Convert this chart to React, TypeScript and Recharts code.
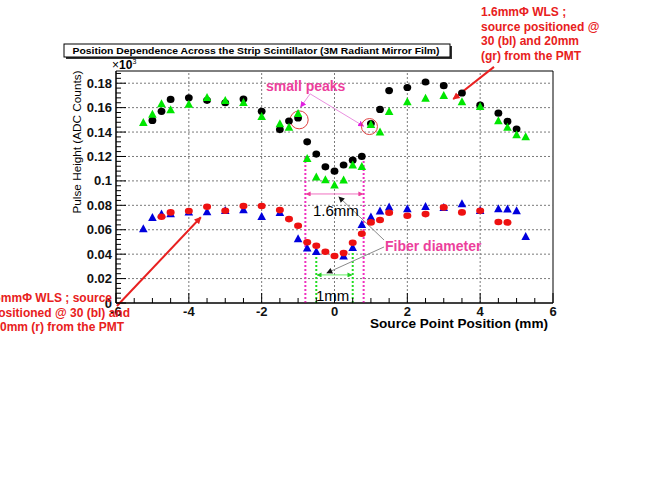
import React from 'react';
import { ScatterChart, Scatter, XAxis, YAxis, ReferenceLine, ReferenceArea, ReferenceDot } from 'recharts';

// ---- data ----
const blackX = [-5, -4.75, -4.5, -4, -3.5, -3, -2.5, -2, -1.5, -1.25, -1, -0.75, -0.5, -0.25, 0, 0.25, 0.5, 0.75, 1, 1.25, 1.5, 2, 2.5, 3, 3.5, 4, 4.5, 4.75, 5];
const blackY = [0.1495, 0.157, 0.1667, 0.168, 0.166, 0.164, 0.167, 0.157, 0.142, 0.149, 0.1515, 0.132, 0.122, 0.1115, 0.108, 0.113, 0.117, 0.12, 0.147, 0.1585, 0.174, 0.1765, 0.181, 0.178, 0.172, 0.162, 0.1555, 0.1487, 0.1425];

const greenX = [-5.25, -5, -4.75, -4.5, -4, -3.5, -3, -2.5, -2, -1.5, -1.25, -1, -0.75, -0.5, -0.25, 0, 0.25, 0.5, 0.75, 1, 1.25, 1.5, 2, 2.5, 3, 3.5, 4, 4.5, 4.75, 5, 5.25];
const greenY = [0.1475, 0.1544, 0.163, 0.158, 0.1626, 0.168, 0.1655, 0.164, 0.1525, 0.1465, 0.1437, 0.155, 0.118, 0.103, 0.1006, 0.0963, 0.1004, 0.1127, 0.1115, 0.146, 0.1397, 0.1566, 0.1645, 0.1675, 0.1697, 0.1645, 0.1607, 0.149, 0.1437, 0.1375, 0.136];

const blueX = [-5.25, -5, -4.75, -4.5, -4, -3.5, -3, -2.5, -2, -1.5, -1, -0.75, -0.5, 0.25, 0.5, 0.75, 1, 1.25, 1.5, 2, 2.5, 3, 3.5, 4, 4.5, 4.75, 5, 5.25];
const blueY = [0.0606, 0.0698, 0.0726, 0.0728, 0.0742, 0.0745, 0.0755, 0.0761, 0.0706, 0.0739, 0.0524, 0.0448, 0.042, 0.0382, 0.0453, 0.064, 0.0702, 0.075, 0.0783, 0.0769, 0.0788, 0.078, 0.081, 0.0755, 0.077, 0.0768, 0.0754, 0.0543];

const redX = [-4.75, -4.5, -4, -3.5, -3, -2.5, -2, -1.5, -1.25, -1, -0.75, -0.5, -0.25, 0, 0.25, 0.5, 0.75, 1, 1.25, 1.5, 2, 2.5, 3, 3.5, 4, 4.5, 4.75];
const redY = [0.0706, 0.0742, 0.0753, 0.0788, 0.0755, 0.0794, 0.0794, 0.0761, 0.0687, 0.0633, 0.0497, 0.0469, 0.042, 0.0385, 0.0409, 0.0494, 0.0567, 0.066, 0.068, 0.0739, 0.0714, 0.0728, 0.0783, 0.0742, 0.0755, 0.0663, 0.066];

const xMajorTicks = [-6, -4, -2, 0, 2, 4, 6];
const yMajorTicks = [0, 0.02, 0.04, 0.06, 0.08, 0.1, 0.12, 0.14, 0.16, 0.18];
const xGridTicks = [-4, -2, 0, 2, 4];
const yGridTicks = [0.02, 0.04, 0.06, 0.08, 0.1, 0.12, 0.14, 0.16, 0.18];

const title = 'Position Dependence Across the Strip Scintillator (3M Radiant Mirror Film)';
const xTitle = 'Source Point Position (mm)';
const yTitle = 'Pulse Height (ADC Counts)';
const noteRight = ['1.6mm\u03A6 WLS ;', 'source positioned @', '30 (bl) and 20mm', '(gr) from the PMT'];
const noteLeft = ['1.6mm\u03A6 WLS ;  source', 'positioned @ 30 (bl) and', '20mm (r) from the PMT'];

const X_DOMAIN: [number, number] = [-6, 6];
const Y_DOMAIN: [number, number] = [0, 0.19];

const xMinorTicks = Array.from({ length: 25 }, (_, i) => -6 + i * 0.5);
const yMinorTicks = Array.from({ length: 48 }, (_, i) => +(i * 0.004).toFixed(3));

const pts = (xs: number[], ys: number[]) => xs.map((x, i) => ({ x, y: ys[i] }));
const blackData = pts(blackX, blackY);
const greenData = pts(greenX, greenY);
const blueData = pts(blueX, blueY);
const redData = pts(redX, redY);

const FONT = 'Arial, "Liberation Sans", Helvetica, sans-serif';
const PINK = '#ec3f9c';
const RED = '#e82020';

const isMajor = (v: number, step: number) => Math.abs(v / step - Math.round(v / step)) < 1e-6;

const YTick = (props: any) => {
  const { x, y, payload } = props;
  const v = payload.value;
  const major = isMajor(v, 0.02);
  return (
    <g>
      <line x1={x} y1={y} x2={x + (major ? 10 : 5)} y2={y} stroke="#000" strokeWidth={1} />
      {major && (
        <text x={x - 4} y={y + 4.5} textAnchor="end" fontFamily={FONT} fontWeight="bold" fontSize={13} fill="#111">
          {String(+v.toFixed(2))}
        </text>
      )}
    </g>
  );
};

const XTick = (props: any) => {
  const { x, y, payload } = props;
  const v = payload.value;
  const major = isMajor(v, 2);
  return (
    <g>
      <line x1={x} y1={y} x2={x} y2={y - (major ? 10 : 5)} stroke="#000" strokeWidth={1} />
      {major && (
        <text x={x} y={y + 13} textAnchor="middle" fontFamily={FONT} fontWeight="bold" fontSize={13} fill="#111">
          {String(v)}
        </text>
      )}
    </g>
  );
};

const circleShape = (color: string, rx: number, ry: number) => (p: any) =>
  <ellipse cx={p.cx} cy={p.cy} rx={rx} ry={ry} fill={color} />;
const triShape = (color: string) => (p: any) => {
  const { cx, cy } = p;
  return <polygon points={`${cx},${cy - 4.8} ${cx - 4.3},${cy + 3.2} ${cx + 4.3},${cy + 3.2}`} fill={color} />;
};

export default function App() {
  return (
    <div style={{ position: 'absolute', left: 0, top: 0, width: 654, height: 498, background: '#fff' }}>
      <svg width={0} height={0} style={{ position: 'absolute' }}>
        <defs>
          <marker id="arPink" viewBox="0 0 10 10" refX="9" refY="5" markerWidth="5" markerHeight="5" orient="auto-start-reverse" markerUnits="userSpaceOnUse">
            <path d="M0,0 L10,5 L0,10 z" fill={PINK} />
          </marker>
          <marker id="arGreen" viewBox="0 0 10 10" refX="9" refY="5" markerWidth="5" markerHeight="5" orient="auto-start-reverse" markerUnits="userSpaceOnUse">
            <path d="M0,0 L10,5 L0,10 z" fill="#22cc22" />
          </marker>
          <marker id="arGray" viewBox="0 0 10 10" refX="9" refY="5" markerWidth="7" markerHeight="6" orient="auto" markerUnits="userSpaceOnUse">
            <path d="M0,0 L10,5 L0,10 z" fill="#111" />
          </marker>
          <marker id="arMag" viewBox="0 0 10 10" refX="9" refY="5" markerWidth="6" markerHeight="6" orient="auto" markerUnits="userSpaceOnUse">
            <path d="M0,0 L10,5 L0,10 z" fill="#e020e0" />
          </marker>
          <marker id="arRed" viewBox="0 0 10 10" refX="9" refY="5" markerWidth="8" markerHeight="7" orient="auto" markerUnits="userSpaceOnUse">
            <path d="M0,0 L10,5 L0,10 z" fill={RED} />
          </marker>
        </defs>
      </svg>
      <ScatterChart width={654} height={498} margin={{ top: 71, right: 101, bottom: 165, left: 76 }}>
        {yGridTicks.map((v) => (
          <ReferenceLine key={'gy' + v} y={v} stroke="#7a7a7a" strokeDasharray="2 2" strokeWidth={1} />
        ))}
        {xGridTicks.map((v) => (
          <ReferenceLine key={'gx' + v} x={v} stroke="#7a7a7a" strokeDasharray="2 2" strokeWidth={1} />
        ))}
        <ReferenceArea x1={X_DOMAIN[0]} x2={X_DOMAIN[1]} y1={Y_DOMAIN[0]} y2={Y_DOMAIN[1]} fill="none" fillOpacity={0} stroke="#000" strokeWidth={1} />
        <XAxis
          type="number"
          dataKey="x"
          domain={X_DOMAIN}
          ticks={xMinorTicks}
          interval={0}
          tickSize={0}
          tickMargin={0}
          tickLine={false}
          tick={<XTick />}
          height={30}
          axisLine={{ stroke: '#000' }}
          allowDataOverflow
        />
        <YAxis
          type="number"
          dataKey="y"
          domain={Y_DOMAIN}
          ticks={yMinorTicks}
          interval={0}
          tickSize={0}
          tickMargin={0}
          tickLine={false}
          tick={<YTick />}
          width={40}
          axisLine={{ stroke: '#000' }}
          allowDataOverflow
        />

        {/* fiber diameter markers */}
        <ReferenceLine segment={[{ x: -0.8, y: 0 }, { x: -0.8, y: 0.121 }]} stroke="#f030c0" strokeWidth={2} strokeDasharray="2 2" />
        <ReferenceLine segment={[{ x: 0.8, y: 0 }, { x: 0.8, y: 0.121 }]} stroke="#f030c0" strokeWidth={2} strokeDasharray="2 2" />
        <ReferenceLine segment={[{ x: -0.5, y: 0 }, { x: -0.5, y: 0.043 }]} stroke="#22dd22" strokeWidth={2} strokeDasharray="2 2" />
        <ReferenceLine segment={[{ x: 0.5, y: 0 }, { x: 0.5, y: 0.043 }]} stroke="#22dd22" strokeWidth={2} strokeDasharray="2 2" />
        <ReferenceLine segment={[{ x: -0.78, y: 0.0893 }, { x: 0.78, y: 0.0893 }]} stroke="#f070c0" strokeWidth={1} markerStart="url(#arPink)" markerEnd="url(#arPink)" />
        <ReferenceLine segment={[{ x: -0.48, y: 0.023 }, { x: 0.48, y: 0.023 }]} stroke="#66ee66" strokeWidth={1} markerStart="url(#arGreen)" markerEnd="url(#arGreen)" />
        <ReferenceLine segment={[{ x: 1.36, y: 0.0516 }, { x: 0.12, y: 0.0869 }]} stroke="#8a8a8a" strokeWidth={1} markerEnd="url(#arGray)" />
        <ReferenceLine segment={[{ x: 1.36, y: 0.0459 }, { x: -0.21, y: 0.0246 }]} stroke="#8a8a8a" strokeWidth={1} markerEnd="url(#arGray)" />

        {/* small peaks */}
        <ReferenceLine segment={[{ x: -0.67, y: 0.1713 }, { x: -0.93, y: 0.1605 }]} stroke="#ea90e0" strokeWidth={1} markerEnd="url(#arMag)" ifOverflow="visible" />
        <ReferenceLine segment={[{ x: -0.67, y: 0.1713 }, { x: 0.8, y: 0.1448 }]} stroke="#ea90e0" strokeWidth={1} markerEnd="url(#arMag)" ifOverflow="visible" />
        <ReferenceDot x={-0.97} y={0.15} r={9} fill="none" stroke="#e04040" strokeWidth={1} />
        <ReferenceDot x={0.96} y={0.1445} r={8} fill="none" stroke="#e04040" strokeWidth={1} />

        <Scatter data={blackData} fill="#000" shape={circleShape('#000', 3.9, 3.6)} isAnimationActive={false} />
        <Scatter data={greenData} fill="#00e600" shape={triShape('#00e600')} isAnimationActive={false} />
        <Scatter data={blueData} fill="#0000dd" shape={triShape('#0000dd')} isAnimationActive={false} />
        <Scatter data={redData} fill="#ee1111" shape={circleShape('#ee1111', 4.0, 3.3)} isAnimationActive={false} />

        {/* red pointer arrows */}
        <ReferenceLine segment={[{ x: 4.38, y: 0.1934 }, { x: 3.26, y: 0.167 }]} stroke={RED} strokeWidth={2} markerEnd="url(#arRed)" ifOverflow="visible" />
        <ReferenceLine segment={[{ x: -5.975, y: -0.0025 }, { x: -3.67, y: 0.0702 }]} stroke={RED} strokeWidth={2} markerEnd="url(#arRed)" ifOverflow="visible" />
      </ScatterChart>

      <svg width={654} height={498} style={{ position: 'absolute', left: 0, top: 0, pointerEvents: 'none' }}>
        {/* title box */}
        <rect x={66} y={46} width={386} height={13} fill="#333" />
        <rect x={64} y={44} width={386} height={13} fill="#fff" stroke="#000" strokeWidth={1} />
        <text x={256} y={53.8} textAnchor="middle" fontFamily={FONT} fontWeight="bold" fontSize={8.5} textLength={367} lengthAdjust="spacingAndGlyphs" fill="#000">
          {title}
        </text>
        <text x={112} y={69} fontFamily={FONT} fontSize={12} fill="#000">
          ×<tspan fontWeight="bold">10</tspan>
          <tspan fontSize={7} dy={-5}>3</tspan>
        </text>
        {/* axis titles */}
        <text x={0} y={0} transform="translate(81,142) rotate(-90)" textAnchor="middle" fontFamily={FONT} fontSize={11.5} textLength={143} lengthAdjust="spacingAndGlyphs" fill="#000">
          {yTitle}
        </text>
        <text x={370} y={327.5} fontFamily={FONT} fontWeight="bold" fontSize={12.5} textLength={178} lengthAdjust="spacingAndGlyphs" fill="#000">
          {xTitle}
        </text>
        {/* annotations */}
        <text x={266} y={90.5} fontFamily={FONT} fontWeight="bold" fontSize={14} fill={PINK}>small peaks</text>
        <text x={385} y={250.5} fontFamily={FONT} fontWeight="bold" fontSize={14} fill={PINK}>Fiber diameter</text>
        <text x={313} y={215.5} fontFamily={FONT} fontSize={15} fill="#000">1.6mm</text>
        <text x={316} y={300.5} fontFamily={FONT} fontSize={15} fill="#000">1mm</text>
        {noteRight.map((t, i) => (
          <text key={'nr' + i} x={481} y={16 + i * 14.5} fontFamily={FONT} fontWeight="bold" fontSize={12} fill={RED}>{t}</text>
        ))}
        {noteLeft.map((t, i) => (
          <text key={'nl' + i} x={[112, 130, 124][i]} y={302 + i * 14.5} textAnchor="end" fontFamily={FONT} fontWeight="bold" fontSize={12} fill={RED}>{t}</text>
        ))}
      </svg>
    </div>
  );
}
